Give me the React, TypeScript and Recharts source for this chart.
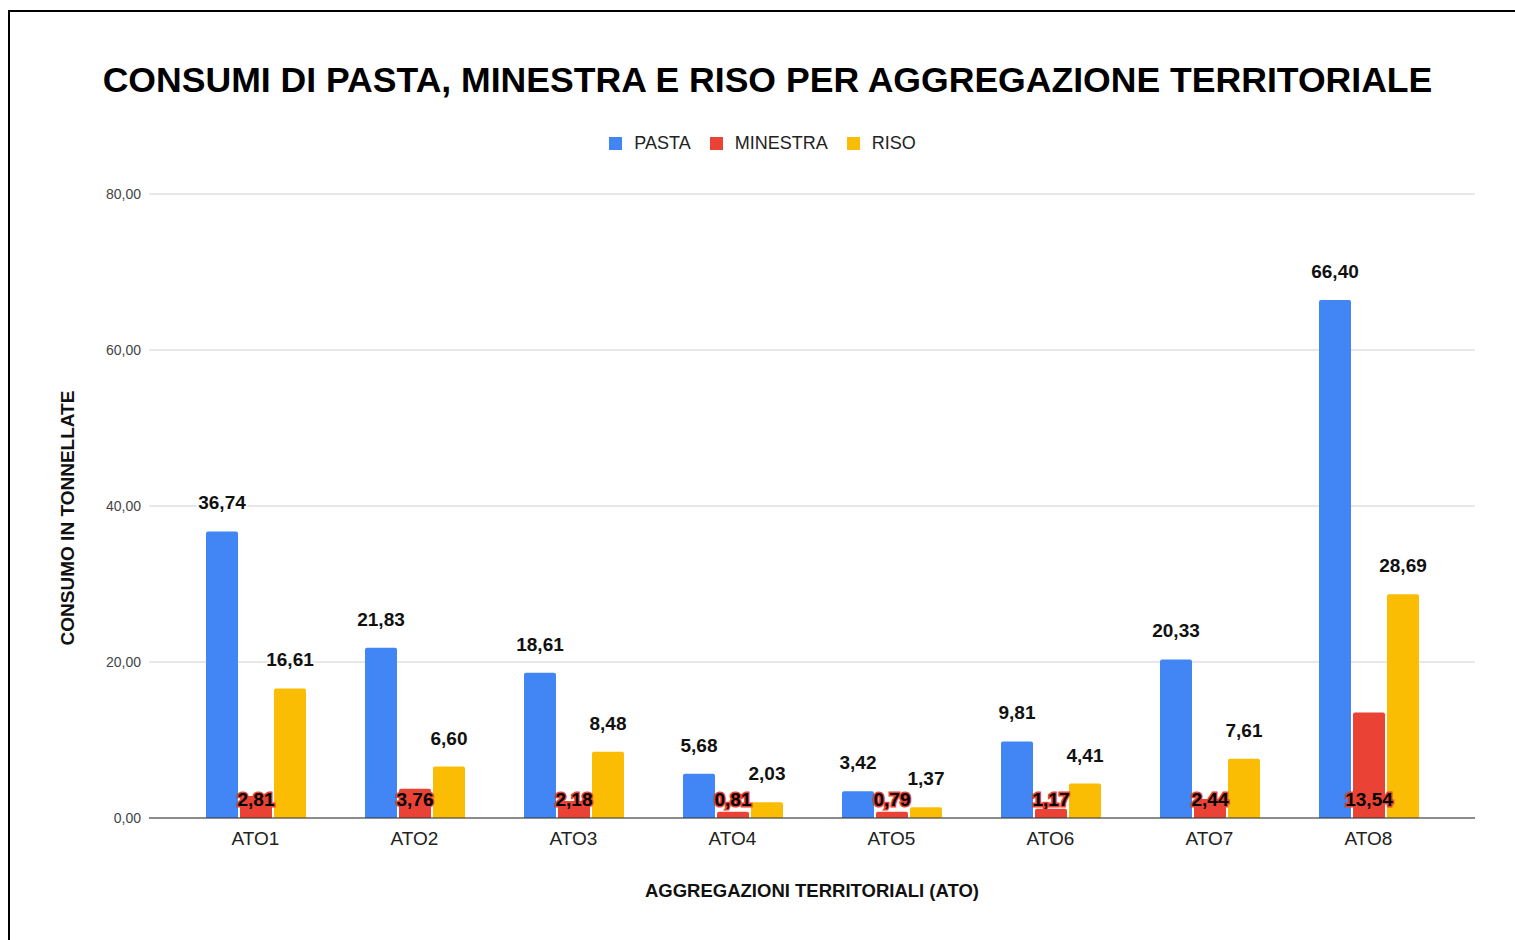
import React from 'react';
import { BarChart, Bar, XAxis, YAxis, CartesianGrid, Legend, LabelList, Label } from 'recharts';

const categories = ['ATO1', 'ATO2', 'ATO3', 'ATO4', 'ATO5', 'ATO6', 'ATO7', 'ATO8'];
const pasta = [36.74, 21.83, 18.61, 5.68, 3.42, 9.81, 20.33, 66.4];
const minestra = [2.81, 3.76, 2.18, 0.81, 0.79, 1.17, 2.44, 13.54];
const riso = [16.61, 6.6, 8.48, 2.03, 1.37, 4.41, 7.61, 28.69];
const yTicks = [0, 20, 40, 60, 80];

const data = categories.map((name, i) => ({
  name,
  pasta: pasta[i],
  minestra: minestra[i],
  riso: riso[i],
}));

const FONT = '"Liberation Sans", Arial, sans-serif';
const fmt = (v: number) => v.toFixed(2).replace('.', ',');

const legendItems = [
  { label: 'PASTA', color: '#4285F4' },
  { label: 'MINESTRA', color: '#EA4335' },
  { label: 'RISO', color: '#FBBC04' },
];

function LegendContent() {
  return (
    <div style={{ display: 'flex', justifyContent: 'center', gap: 19, fontFamily: FONT, fontSize: 18, color: '#222' }}>
      {legendItems.map((it) => (
        <div key={it.label} style={{ display: 'flex', alignItems: 'center', gap: 12 }}>
          <span style={{ width: 13, height: 13, background: it.color, display: 'inline-block' }} />
          <span>{it.label}</span>
        </div>
      ))}
    </div>
  );
}

// white halo so the value labels cut through the gridlines
const topLabelStyle = {
  fill: '#111',
  stroke: '#fff',
  strokeWidth: 3,
  paintOrder: 'stroke',
  fontSize: 19,
  fontWeight: 'bold',
  fontFamily: FONT,
} as const;

export default function App() {
  return (
    <div
      style={{
        position: 'absolute',
        left: 8,
        top: 10,
        width: 1530,
        height: 960,
        border: '2px solid #000',
        background: '#fff',
        fontFamily: FONT,
      }}
    >
      <div
        style={{
          position: 'absolute',
          top: 48,
          left: 0,
          width: 1515,
          textAlign: 'center',
          fontSize: 35.6,
          lineHeight: '40px',
          fontWeight: 'bold',
          color: '#000',
        }}
      >
        CONSUMI DI PASTA, MINESTRA E RISO PER AGGREGAZIONE TERRITORIALE
      </div>
      <BarChart
        width={1505}
        height={928}
        data={data}
        margin={{ top: 161, right: 40, left: 0, bottom: 0 }}
        barSize={32}
        barGap={2}
        style={{ position: 'absolute', top: 0, left: 0 }}
      >
        <CartesianGrid vertical={false} stroke="#d0d0d0" />
        <XAxis
          dataKey="name"
          height={122}
          padding={{ left: 27, right: 27 }}
          tickLine={false}
          tickMargin={8}
          axisLine={{ stroke: '#333' }}
          tick={{ fill: '#222', fontSize: 19, fontFamily: FONT }}
        >
          <Label
            value="AGGREGAZIONI TERRITORIALI (ATO)"
            position="insideBottom"
            offset={43}
            style={{ fill: '#111', fontSize: 18.5, fontWeight: 'bold', fontFamily: FONT }}
          />
        </XAxis>
        <YAxis
          width={139}
          domain={[0, 80]}
          ticks={yTicks}
          tickFormatter={fmt}
          tickLine={false}
          axisLine={false}
          tick={{ fill: '#444', fontSize: 14, fontFamily: FONT }}
        >
          <Label
            content={() => (
              <text
                x={57}
                y={506}
                transform="rotate(-90 57 506)"
                textAnchor="middle"
                dominantBaseline="central"
                style={{ fill: '#111', fontSize: 19, fontWeight: 'bold', fontFamily: FONT }}
              >
                CONSUMO IN TONNELLATE
              </text>
            )}
          />
        </YAxis>
        <Legend verticalAlign="top" content={<LegendContent />} wrapperStyle={{ top: 121, left: 0, width: 1505 }} />
        <Bar dataKey="pasta" name="PASTA" fill="#4285F4" radius={[2, 2, 0, 0]} isAnimationActive={false}>
          <LabelList
            dataKey="pasta"
            position="top"
            offset={22}
            formatter={(v: any) => fmt(Number(v))}
            style={topLabelStyle}
          />
        </Bar>
        <Bar dataKey="minestra" name="MINESTRA" fill="#EA4335" radius={[2, 2, 0, 0]} isAnimationActive={false}>
          <LabelList
            dataKey="minestra"
            position="insideBottom"
            offset={12}
            formatter={(v: any) => fmt(Number(v))}
            style={{ ...topLabelStyle, fill: '#000', stroke: '#EA4335' }}
          />
        </Bar>
        <Bar dataKey="riso" name="RISO" fill="#FBBC04" radius={[2, 2, 0, 0]} isAnimationActive={false}>
          <LabelList
            dataKey="riso"
            position="top"
            offset={22}
            formatter={(v: any) => fmt(Number(v))}
            style={topLabelStyle}
          />
        </Bar>
      </BarChart>
    </div>
  );
}
